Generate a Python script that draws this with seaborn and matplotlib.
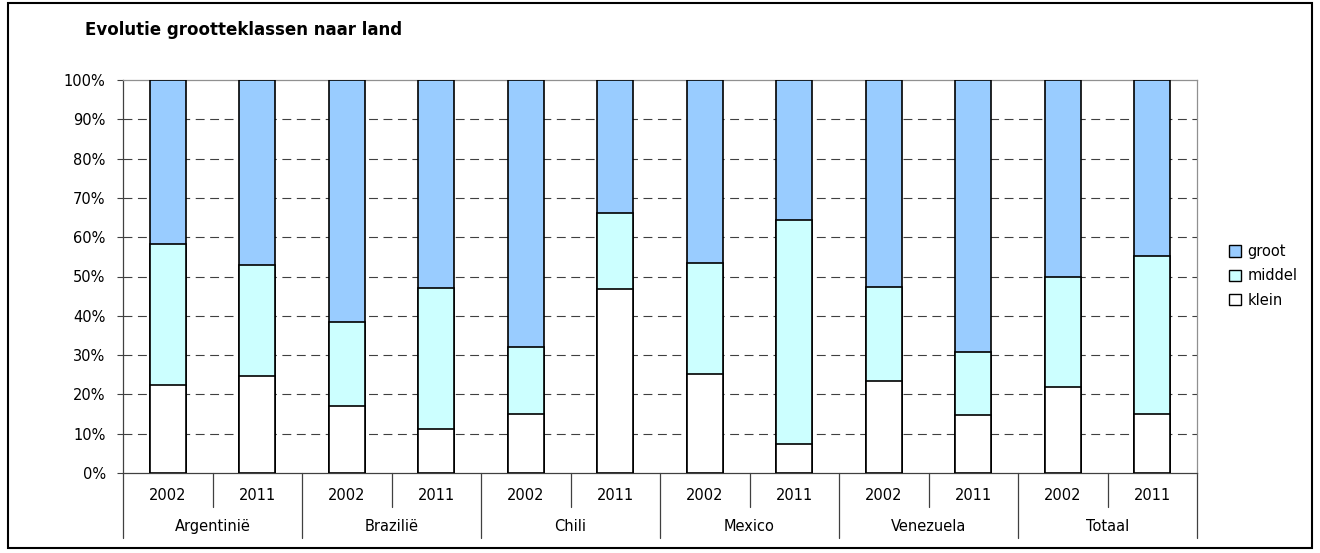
import numpy as np
import pandas as pd
import matplotlib
matplotlib.use("Agg")
import matplotlib.pyplot as plt
import seaborn as sns
from matplotlib.patches import Patch, Rectangle
from matplotlib.transforms import blended_transform_factory

# data (percentages)
countries = ["Argentinië", "Brazilië", "Chili", "Mexico", "Venezuela", "Totaal"]
years = ["2002", "2011"]
klein = [22.4, 24.8, 17.1, 11.3, 15.1, 46.8, 25.2, 7.4, 23.5, 14.8, 22.0, 15.1]
middel = [35.8, 28.1, 21.2, 35.7, 17.0, 19.4, 28.2, 57.0, 23.8, 16.0, 27.9, 40.1]
groot = [41.8, 47.1, 61.7, 53.0, 67.9, 33.8, 46.6, 35.6, 52.7, 69.2, 50.1, 44.8]

bar_keys = [c + " " + y for c in countries for y in years]
df = pd.DataFrame({"bar": bar_keys, "klein": klein, "middel": middel, "groot": groot})
df["top_middel"] = df["klein"] + df["middel"]
df["top_groot"] = df["top_middel"] + df["groot"]

colors = {"groot": "#99CCFF", "middel": "#CCFFFF", "klein": "#FFFFFF"}

sns.set_style("white")
plt.rcParams["font.family"] = ["DejaVu Sans"]
plt.rcParams["text.color"] = "black"
plt.rcParams["ytick.labelcolor"] = "black"
fs = 10.5

fig = plt.figure(figsize=(13.2, 5.53), dpi=100)
ax = fig.add_axes([123 / 1320, 1 - 473 / 553, 1074 / 1320, 393 / 553])

# stacked bars: draw cumulative heights from top layer down
for col, key in [("top_groot", "groot"), ("top_middel", "middel"), ("klein", "klein")]:
    sns.barplot(data=df, x="bar", y=col, color=colors[key], saturation=1,
                width=0.4, edgecolor="black", linewidth=1.2, ax=ax, zorder=3)

ax.set_xlim(-0.5, len(bar_keys) - 0.5)
ax.set_ylim(0, 100)
ax.set_yticks(np.arange(0, 101, 10))
ax.set_yticklabels([f"{v}%" for v in range(0, 101, 10)], fontsize=fs, color="black")
ax.set_xticks([])
ax.set_xlabel("")
ax.set_ylabel("")
ax.tick_params(axis="y", direction="out", length=4.5, width=0.8, color="#404040",
               pad=8, left=True)

for v in range(10, 100, 10):
    ax.axhline(v, color="#404040", lw=0.8, ls=(0, (8, 5)), zorder=1)

for side in ["left", "bottom"]:
    ax.spines[side].set_color("#404040")
    ax.spines[side].set_linewidth(0.9)
for side in ["top", "right"]:
    ax.spines[side].set_color("#909090")
    ax.spines[side].set_linewidth(0.9)

# two-level category axis
tr = blended_transform_factory(ax.transData, ax.transAxes)
for i, key in enumerate(bar_keys):
    ax.text(i, -0.056, key.split(" ")[-1], transform=tr, ha="center", va="center",
            fontsize=fs, color="black")
for j, c in enumerate(countries):
    ax.text(2 * j + 0.5, -0.137, c, transform=tr, ha="center", va="center",
            fontsize=fs, color="black")
for b in range(len(bar_keys) + 1):
    x = b - 0.5
    y_end = -0.165 if b % 2 == 0 else -0.0865
    ax.plot([x, x], [0, y_end], transform=tr, color="#404040", lw=0.9,
            clip_on=False)

fig.text(85 / 1320, 1 - 30 / 553, "Evolutie grootteklassen naar land",
         fontsize=12, fontweight="bold", va="center", ha="left", color="black")

handles = [Patch(facecolor=colors[k], edgecolor="black", linewidth=1, label=k)
           for k in ["groot", "middel", "klein"]]
fig.legend(handles=handles, loc="center left",
           bbox_to_anchor=(1216 / 1320, 1 - 276 / 553), frameon=False,
           fontsize=fs, handlelength=0.8, handleheight=0.8, handletextpad=0.45,
           labelspacing=0.65)

fig.patches.append(Rectangle((8 / 1320, 5 / 553), 1304 / 1320, 545 / 553,
                             transform=fig.transFigure, fill=False,
                             edgecolor="black", lw=1.5))

fig.savefig("out.png", dpi=100)
